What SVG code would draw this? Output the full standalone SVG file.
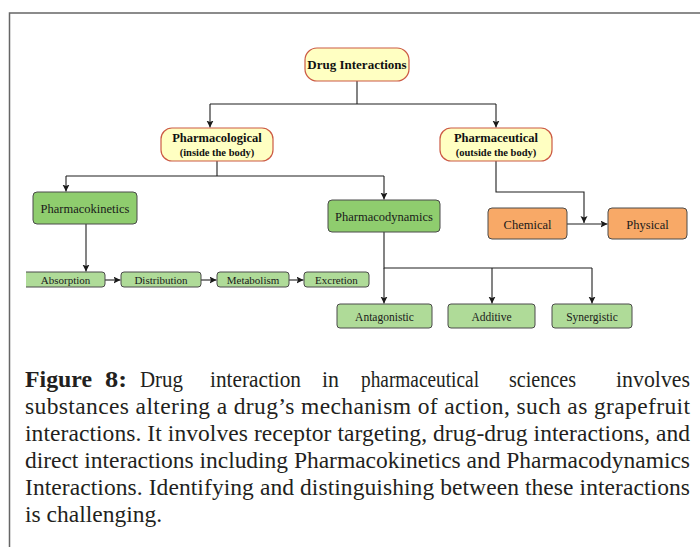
<svg xmlns="http://www.w3.org/2000/svg" width="700" height="547" viewBox="0 0 700 547">
  <defs>
    <marker id="arrow" markerUnits="userSpaceOnUse" markerWidth="8" markerHeight="8" refX="7" refY="3.5" orient="auto">
      <path d="M0,0 L7,3.5 L0,7 L1.5,3.5 Z" fill="#1a1a1a"/>
    </marker>
    <clipPath id="panelClip">
      <rect x="26" y="14" width="674" height="330"/>
    </clipPath>
    <style>
      .frame { fill: none; stroke: #666; stroke-width: 1.5; }
      .wire { fill: none; stroke: #1f1f1f; stroke-width: 1.1; }
      .arr { marker-end: url(#arrow); }
      .root { fill: #ffffc2; stroke: #cc5a44; stroke-width: 1.2; }
      .mid { fill: #8fcd6e; stroke: #4a4a4a; stroke-width: 1; }
      .leaf { fill: #afdb98; stroke: #4a4a4a; stroke-width: 1; }
      .orange { fill: #f8a967; stroke: #4a4a4a; stroke-width: 1; }
      .tb { font-family: "Liberation Serif", "Times New Roman", serif; font-weight: bold; fill: #111; text-anchor: middle; }
      .tn { font-family: "Liberation Serif", "Times New Roman", serif; fill: #1a1a1a; text-anchor: middle; }
      .cap { font-family: "Liberation Serif", "Times New Roman", serif; font-size: 23.5px; fill: #231f20; }
    </style>
  </defs>

  <rect width="700" height="547" fill="#fff"/>
  <path class="frame" d="M9.5,547 V13 H700"/>

  <!-- connectors -->
  <g id="connectors">
    <path class="wire" d="M357,81 V104 M210,104 H496"/>
    <path class="wire arr" d="M210,104 V127.5"/>
    <path class="wire arr" d="M496,104 V127.5"/>
    <path class="wire" d="M217,161 V176 M66,176 H384"/>
    <path class="wire arr" d="M66,176 V191.5"/>
    <path class="wire arr" d="M384,176 V199.5"/>
    <path class="wire arr" d="M496,161 V192 H584 V223"/>
    <path class="wire arr" d="M567,224 H607.5"/>
    <path class="wire arr" d="M86,224 V271.5"/>
    <path class="wire arr" d="M105,280 H120.5"/>
    <path class="wire arr" d="M201,280 H216.5"/>
    <path class="wire arr" d="M289,280 H303.5"/>
    <path class="wire" d="M384,232 V268 H592"/>
    <path class="wire arr" d="M384,268 V303.5"/>
    <path class="wire arr" d="M492,268 V303.5"/>
    <path class="wire arr" d="M592,268 V303.5"/>
  </g>

  <!-- nodes -->
  <g id="drug-interactions">
    <rect class="root" x="305" y="48" width="104" height="33" rx="12"/>
    <text class="tb" x="357" y="69" font-size="13">Drug Interactions</text>
  </g>
  <g id="pharmacological">
    <rect class="root" x="161" y="128" width="112" height="33" rx="11"/>
    <text class="tb" x="217" y="141.5" font-size="12.5">Pharmacological</text>
    <text class="tb" x="217" y="156" font-size="10.5">(inside the body)</text>
  </g>
  <g id="pharmaceutical">
    <rect class="root" x="440" y="128" width="112" height="33" rx="11"/>
    <text class="tb" x="496" y="141.5" font-size="12.5">Pharmaceutical</text>
    <text class="tb" x="496" y="156" font-size="10.5">(outside the body)</text>
  </g>
  <g id="pharmacokinetics">
    <rect class="mid" x="33" y="192" width="104" height="32" rx="4"/>
    <text class="tn" x="85" y="213" font-size="12.5">Pharmacokinetics</text>
  </g>
  <g id="pharmacodynamics">
    <rect class="mid" x="328" y="200" width="112" height="32" rx="4"/>
    <text class="tn" x="384" y="221" font-size="12.5">Pharmacodynamics</text>
  </g>
  <g id="chemical">
    <rect class="orange" x="488" y="208" width="79" height="31" rx="4"/>
    <text class="tn" x="527.5" y="228.5" font-size="12.5">Chemical</text>
  </g>
  <g id="physical">
    <rect class="orange" x="608" y="208" width="79" height="31" rx="4"/>
    <text class="tn" x="647.5" y="228.5" font-size="12.5">Physical</text>
  </g>
  <g id="absorption" clip-path="url(#panelClip)">
    <rect class="leaf" x="18" y="272" width="87" height="15" rx="3"/>
    <text class="tn" x="65.5" y="283.5" font-size="11">Absorption</text>
  </g>
  <g id="distribution">
    <rect class="leaf" x="121" y="272" width="80" height="15" rx="3"/>
    <text class="tn" x="161" y="283.5" font-size="11">Distribution</text>
  </g>
  <g id="metabolism">
    <rect class="leaf" x="217" y="272" width="72" height="15" rx="3"/>
    <text class="tn" x="253" y="283.5" font-size="11">Metabolism</text>
  </g>
  <g id="excretion">
    <rect class="leaf" x="304" y="272" width="65" height="15" rx="3"/>
    <text class="tn" x="336.5" y="283.5" font-size="11">Excretion</text>
  </g>
  <g id="antagonistic">
    <rect class="leaf" x="337" y="304" width="95" height="24" rx="3"/>
    <text class="tn" x="384.5" y="320.5" font-size="11.5">Antagonistic</text>
  </g>
  <g id="additive">
    <rect class="leaf" x="448" y="304" width="87" height="24" rx="3"/>
    <text class="tn" x="491.5" y="320.5" font-size="11.5">Additive</text>
  </g>
  <g id="synergistic">
    <rect class="leaf" x="552" y="304" width="80" height="24" rx="3"/>
    <text class="tn" x="592" y="320.5" font-size="11.5">Synergistic</text>
  </g>

  <!-- caption: justified paragraph, first line set word by word -->
  <g id="caption" class="cap">
    <text y="387"><tspan x="25" font-weight="bold" textLength="67" lengthAdjust="spacingAndGlyphs">Figure</tspan><tspan x="105" font-weight="bold" textLength="22" lengthAdjust="spacingAndGlyphs">8:</tspan><tspan x="140" textLength="43" lengthAdjust="spacingAndGlyphs">Drug</tspan><tspan x="210" textLength="91" lengthAdjust="spacingAndGlyphs">interaction</tspan><tspan x="322" textLength="17" lengthAdjust="spacingAndGlyphs">in</tspan><tspan x="361" textLength="118" lengthAdjust="spacingAndGlyphs">pharmaceutical</tspan><tspan x="509" textLength="67" lengthAdjust="spacingAndGlyphs">sciences</tspan><tspan x="616" textLength="74" lengthAdjust="spacingAndGlyphs">involves</tspan></text>
    <text x="25" y="414" textLength="665" lengthAdjust="spacing">substances altering a drug’s mechanism of action, such as grapefruit</text>
    <text x="25" y="441" textLength="665" lengthAdjust="spacing">interactions. It involves receptor targeting, drug-drug interactions, and</text>
    <text x="25" y="468" textLength="665" lengthAdjust="spacing">direct interactions including Pharmacokinetics and Pharmacodynamics</text>
    <text x="25" y="495" textLength="665" lengthAdjust="spacing">Interactions. Identifying and distinguishing between these interactions</text>
    <text x="25" y="522">is challenging.</text>
  </g>
</svg>
